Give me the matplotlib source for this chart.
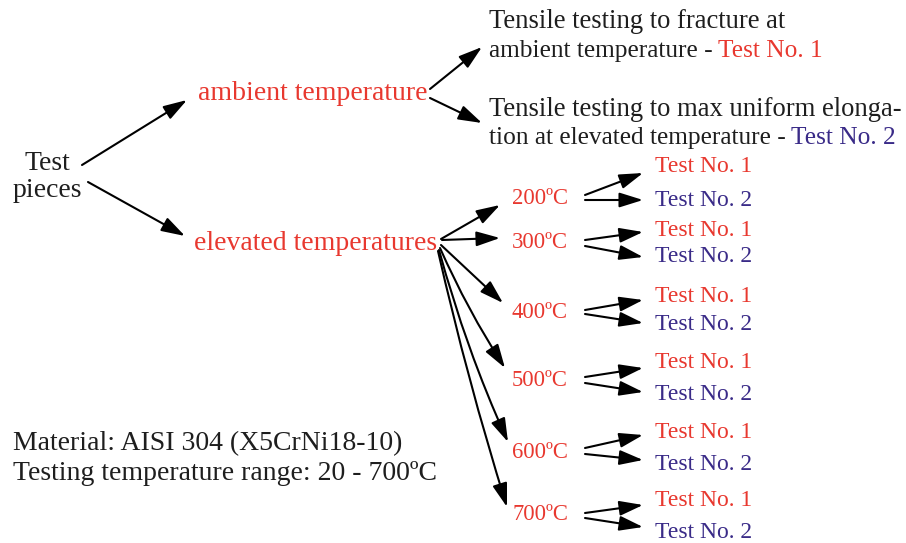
import matplotlib.pyplot as plt

# node labels
root_label = "Test\npieces"
branch_labels = ["ambient temperature", "elevated temperatures"]
temps = [200, 300, 400, 500, 600, 700]
test_labels = ["Test No. 1", "Test No. 2"]
notes = ["Material: AISI 304 (X5CrNi18-10)",
         "Testing temperature range: 20 - 700\u00baC"]

# layout in pixel units (y grows downwards)
temp_y = [199, 242, 312, 380, 452, 515]
test1_y = [167, 231, 297, 363, 432, 500]
test2_y = [200, 256, 325, 395, 465, 532]
fan_heads = [(500, 205), (500, 238), (503, 303), (505, 368), (508, 442), (507, 507)]
fan_tails = [(441, 239), (442, 240), (441, 245), (440, 248), (439, 250), (438, 251)]
fan_rad = [0, 0, 0, 0.04, 0.04, 0.02]
arrow_t1 = [(173, 195), (232, 240), (300, 310), (368, 377), (435, 448), (505, 513)]
arrow_t2 = [(200, 200), (257, 246), (323, 314), (392, 383), (460, 454), (527, 518)]

RED = "#e8382f"
BLUE = "#3a2b88"
INK = "#1e1e1e"
FONT = "Liberation Serif"
FS_BIG = 20
FS_TOP = 19.2
FS_TOP2 = 18.3
FS_SMALL = 17

fig = plt.figure(figsize=(9.06, 5.43), dpi=100, facecolor="white")
ax = fig.add_axes([0, 0, 1, 1])
ax.set_xlim(0, 906)
ax.set_ylim(543, 0)
ax.axis("off")


def arrow(tail, head, rad=0.0):
    ax.annotate("", xy=head, xytext=tail,
                arrowprops=dict(arrowstyle="-|>,head_length=0.8,head_width=0.25",
                                color="black", lw=1.5, mutation_scale=18,
                                shrinkA=0, shrinkB=0,
                                connectionstyle=f"arc3,rad={rad}"))


def label(x, y, s, color=INK, fs=FS_BIG, ha="left"):
    return ax.text(x, y, s, color=color, fontsize=fs, family=FONT,
                   ha=ha, va="center")


def label_then(x, y, first, second, color):
    t = label(x, y, first, fs=FS_TOP2)
    ax.annotate(second, xy=(1, 0.5), xycoords=t, xytext=(5, 0),
                textcoords="offset pixels", color=color, fontsize=FS_TOP2,
                family=FONT, ha="left", va="center")


# root
ax.text(47, 177, root_label, color=INK, fontsize=FS_BIG, family=FONT,
        ha="center", va="center", linespacing=1.1)
arrow((82, 165), (187, 100))
arrow((88, 182), (185, 236))

label(198, 94, branch_labels[0], RED)
label(194, 243, branch_labels[1], RED)

# ambient branch
arrow((430, 89), (482, 47))
arrow((430, 98), (482, 123))
label(489, 22, "Tensile testing to fracture at", fs=FS_TOP)
label_then(489, 51, "ambient temperature -", test_labels[0], RED)
label(489, 109, "Tensile testing to max uniform elonga-", fs=FS_TOP)
label_then(489, 138, "tion at elevated temperature -", test_labels[1], BLUE)

# elevated branch
for i, t in enumerate(temps):
    arrow(fan_tails[i], fan_heads[i], fan_rad[i])
    label(512, temp_y[i], f"{t}\u00baC", RED, fs=16.3)
    arrow((585, arrow_t1[i][1]), (643, arrow_t1[i][0]))
    arrow((585, arrow_t2[i][1]), (643, arrow_t2[i][0]))
    label(655, test1_y[i], test_labels[0], RED, fs=FS_SMALL)
    label(655, test2_y[i], test_labels[1], BLUE, fs=FS_SMALL)

label(13, 444, notes[0])
label(13, 474, notes[1])

fig.savefig("out.png", dpi=100, facecolor="white")
